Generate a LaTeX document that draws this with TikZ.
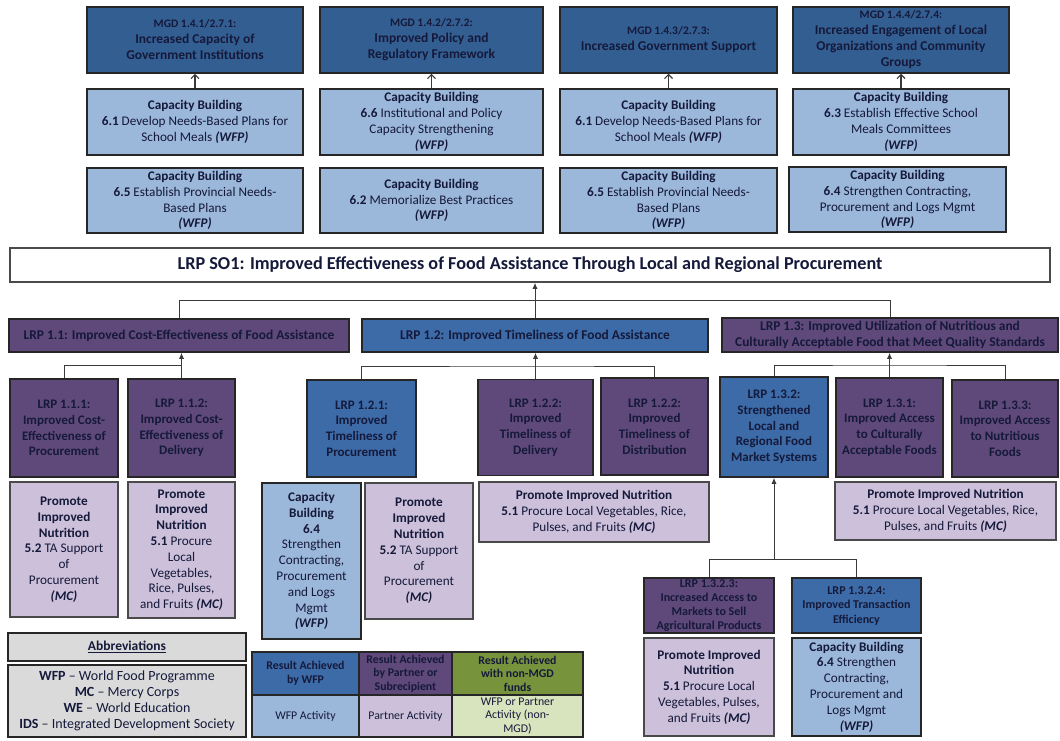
\documentclass[tikz,border=0pt]{standalone}
\usepackage{fontspec}
\setmainfont{Carlito}
\usetikzlibrary{arrows.meta}
\definecolor{mgdblue}{HTML}{335E92}
\definecolor{lrpblue}{HTML}{3C6BA8}
\definecolor{cbblue}{HTML}{9BB7DA}
\definecolor{purp}{HTML}{5F497A}
\definecolor{lpurp}{HTML}{CCC0DA}
\definecolor{grn}{HTML}{77933C}
\definecolor{lgrn}{HTML}{D7E4BD}
\definecolor{abgrey}{HTML}{DADADA}
\definecolor{boxline}{HTML}{262626}
\definecolor{lpline}{HTML}{4A4A4A}
\definecolor{txt}{HTML}{15193A}
\definecolor{conn}{HTML}{3A3A3A}
\newcommand\WFPtag{\textbf{\textit{(WFP)}}}
\newcommand\MCtag{\textbf{\textit{(MC)}}}
\begin{document}
\begin{tikzpicture}[x=1pt,y=-1pt,
  box/.style={draw=boxline, line width=1.5pt, align=center, inner sep=1pt, text=txt,
    font=\fontsize{13.2}{15.8}\selectfont},
  mgd/.style={box, fill=mgdblue, font=\bfseries\fontsize{13.5}{16}\selectfont},
  cbx/.style={box, fill=cbblue},
  pur/.style={box, fill=purp, font=\bfseries\fontsize{13}{15.7}\selectfont},
  blu/.style={box, fill=lrpblue, font=\bfseries\fontsize{13}{15.7}\selectfont},
  lpx/.style={box, fill=lpurp, draw=lpline},
  wh/.style={box, fill=white, draw=lpline, font=\bfseries\fontsize{18.2}{21}\selectfont},
  lg/.style={box, font=\fontsize{11.8}{13.5}\selectfont, line width=1.2pt},
  sz/.style 2 args={minimum width=#1pt, minimum height=#2pt},
  link/.style={draw=conn, line width=0.9pt},
  tarr/.style={link, line width=1.2pt, -{Straight Barb[length=4pt,width=8pt]}},
  arr/.style={link, -{Latex[length=6pt,width=5pt]}}
]
\useasboundingbox (0,0) rectangle (1060,740);

% ---- MGD row
\node[mgd, sz={216}{66}] (m1) at (195,40) {{\fontsize{11.5}{16}\selectfont MGD 1.4.1/2.7.1:}\\Increased Capacity of\\Government Institutions};
\node[mgd, sz={223}{66}] (m2) at (431.5,40) {{\fontsize{11.5}{16}\selectfont MGD 1.4.2/2.7.2:}\\Improved Policy and\\Regulatory Framework};
\node[mgd, sz={217}{66}] (m3) at (668.5,40) {{\fontsize{11.5}{16}\selectfont MGD 1.4.3/2.7.3:}\\Increased Government Support};
\node[mgd, sz={216}{66}] (m4) at (901,40) {{\fontsize{11.5}{16}\selectfont MGD 1.4.4/2.7.4:}\\Increased Engagement of Local\\Organizations and Community\\Groups};

% ---- Capacity building rows
\node[cbx, sz={216}{66}] (c11) at (195,122) {\textbf{Capacity Building}\\\textbf{6.1} Develop Needs-Based Plans for\\School Meals \WFPtag};
\node[cbx, sz={223}{66}] (c12) at (431.5,122) {\textbf{Capacity Building}\\\textbf{6.6} Institutional and Policy\\Capacity Strengthening\\\WFPtag};
\node[cbx, sz={217}{66}] (c13) at (668.5,122) {\textbf{Capacity Building}\\\textbf{6.1} Develop Needs-Based Plans for\\School Meals \WFPtag};
\node[cbx, sz={216}{66}] (c14) at (901,122) {\textbf{Capacity Building}\\\textbf{6.3} Establish Effective School\\Meals Committees\\\WFPtag};

\node[cbx, sz={216}{65}] (c21) at (195,200.5) {\textbf{Capacity Building}\\\textbf{6.5} Establish Provincial Needs-\\Based Plans\\\WFPtag};
\node[cbx, sz={223}{65}] (c22) at (431.5,200.5) {\textbf{Capacity Building}\\\textbf{6.2} Memorialize Best Practices\\\WFPtag};
\node[cbx, sz={217}{65}] (c23) at (668.5,200.5) {\textbf{Capacity Building}\\\textbf{6.5} Establish Provincial Needs-\\Based Plans\\\WFPtag};
\node[cbx, sz={217}{65}] (c24) at (897.5,199.5) {\textbf{Capacity Building}\\\textbf{6.4} Strengthen Contracting,\\Procurement and Logs Mgmt\\\WFPtag};

\draw[tarr] (c11.north) -- (m1.south);
\draw[tarr] (c12.north) -- (m2.south);
\draw[tarr] (c13.north) -- (m3.south);
\draw[tarr] (c14.north) -- (m4.south);

% ---- SO1
\node[wh, sz={1040}{34}] (so1) at (530,265) {LRP SO1: Improved Effectiveness of Food Assistance Through Local and Regional Procurement};

% ---- level 2
\node[pur, sz={340}{33}, font=\bfseries\fontsize{13.4}{16}\selectfont] (l11) at (179,335.5) {LRP 1.1: Improved Cost-Effectiveness of Food Assistance};
\node[blu, sz={346}{33}, font=\bfseries\fontsize{13.4}{16}\selectfont] (l12) at (535,335.5) {LRP 1.2: Improved Timeliness of Food Assistance};
\node[pur, sz={336}{34}, font=\bfseries\fontsize{13.4}{16}\selectfont] (l13) at (890,335) {LRP 1.3: Improved Utilization of Nutritious and\\Culturally Acceptable Food that Meet Quality Standards};

\draw[link] (l11.north) -- ++(0,-18) -| (l13.north);
\draw[arr] (l12.north) -- (l12.north |- so1.south);

% ---- level 3
\node[pur, sz={108}{98}] (a111) at (64,428) {LRP 1.1.1:\\Improved Cost-\\Effectiveness of\\Procurement};
\node[pur, sz={107}{98}] (a112) at (181.5,428) {LRP 1.1.2:\\Improved Cost-\\Effectiveness of\\Delivery};
\node[blu, sz={109}{97}] (a121) at (361.5,428.5) {LRP 1.2.1:\\Improved\\Timeliness of\\Procurement};
\node[pur, sz={115}{96}] (a122) at (535.5,427.5) {LRP 1.2.2:\\Improved\\Timeliness of\\Delivery};
\node[pur, sz={107}{97}] (a122b) at (654.5,426.5) {LRP 1.2.2:\\Improved\\Timeliness of\\Distribution};
\node[blu, sz={108}{100}] (a132) at (774,427) {LRP 1.3.2:\\Strengthened\\Local and\\Regional Food\\Market Systems};
\node[pur, sz={107}{99}] (a131) at (889.5,427.5) {LRP 1.3.1:\\Improved Access\\to Culturally\\Acceptable Foods};
\node[pur, sz={106}{97}] (a133) at (1005,428.5) {LRP 1.3.3:\\Improved Access\\to Nutritious\\Foods};

\coordinate (j11) at (181.5,365);
\coordinate (j12) at (535.5,366);
\coordinate (j13) at (889.5,365);
\draw[link] (a111.north) |- (j11);
\draw[arr] (a112.north) -- (a112.north |- l11.south);
\draw[link] (a121.north) |- (j12) -| (a122b.north);
\draw[arr] (a122.north) -- (a122.north |- l12.south);
\draw[link] (a132.north) |- (j13) -| (a133.north);
\draw[arr] (a131.north) -- (a131.north |- l13.south);

% ---- level 4 activities
\node[lpx, sz={108}{135}] (p1) at (64,549.5) {\textbf{Promote}\\\textbf{Improved}\\\textbf{Nutrition}\\\textbf{5.2} TA Support\\of\\Procurement\\\MCtag};
\node[lpx, sz={107}{136}] (p2) at (181.5,550) {\textbf{Promote}\\\textbf{Improved}\\\textbf{Nutrition}\\\textbf{5.1} Procure\\Local\\Vegetables,\\Rice, Pulses,\\and Fruits \MCtag};
\node[cbx, sz={99}{156}] (cb64) at (311.5,561) {\textbf{Capacity}\\\textbf{Building}\\\textbf{6.4}\\Strengthen\\Contracting,\\Procurement\\and Logs\\Mgmt\\\WFPtag};
\node[lpx, sz={108}{136}] (p3) at (419,551) {\textbf{Promote}\\\textbf{Improved}\\\textbf{Nutrition}\\\textbf{5.2} TA Support\\of\\Procurement\\\MCtag};
\node[lpx, sz={230}{60}] (p4) at (594,512) {\textbf{Promote Improved Nutrition}\\\textbf{5.1} Procure Local Vegetables, Rice,\\Pulses, and Fruits \MCtag};
\node[lpx, sz={221}{58}] (p5) at (945.5,511) {\textbf{Promote Improved Nutrition}\\\textbf{5.1} Procure Local Vegetables, Rice,\\Pulses, and Fruits \MCtag};

% ---- level 5
\node[pur, sz={130}{55}, font=\bfseries\fontsize{12}{14}\selectfont] (a1323) at (709,605.5) {LRP 1.3.2.3:\\Increased Access to\\Markets to Sell\\Agricultural Products};
\node[blu, sz={129}{55}, font=\bfseries\fontsize{12}{14.5}\selectfont] (a1324) at (856.5,605.5) {LRP 1.3.2.4:\\Improved Transaction\\Efficiency};
\node[lpx, sz={130}{98}] (p6) at (709,687) {\textbf{Promote Improved}\\\textbf{Nutrition}\\\textbf{5.1} Procure Local\\Vegetables, Pulses,\\and Fruits \MCtag};
\node[cbx, sz={129}{98}] (cb6) at (856.5,687) {\textbf{Capacity Building}\\\textbf{6.4} Strengthen\\Contracting,\\Procurement and\\Logs Mgmt\\\WFPtag};

\coordinate (j132) at (774,559);
\draw[arr] (j132) -- (a132.south);
\draw[link] (a1323.north) |- (j132) -| (a1324.north);

% ---- abbreviations
\node[box, fill=abgrey, sz={238}{28}, font=\bfseries\fontsize{13.5}{16}\selectfont] (abh) at (127,647) {\underline{Abbreviations}};
\node[box, fill=abgrey, sz={238}{72}, font=\fontsize{14}{16}\selectfont] (abb) at (127,701) {\textbf{WFP} -- World Food Programme\\\textbf{MC} -- Mercy Corps\\\textbf{WE} -- World Education\\\textbf{IDS} -- Integrated Development Society};

% ---- legend
\node[lg, fill=lrpblue, sz={107}{43}, font=\bfseries\fontsize{11.8}{13.5}\selectfont] (g1) at (305.5,673.5) {Result Achieved\\by WFP};
\node[lg, fill=purp, sz={93}{43}, font=\bfseries\fontsize{11.8}{13.5}\selectfont] (g2) at (405.5,673.5) {Result Achieved\\by Partner or\\Subrecipient};
\node[lg, fill=grn, sz={131}{43}, font=\bfseries\fontsize{11.8}{13.5}\selectfont] (g3) at (517.5,673.5) {Result Achieved\\with non-MGD\\funds};
\node[lg, fill=cbblue, sz={107}{42}] (h1) at (305.5,716) {WFP Activity};
\node[lg, fill=lpurp, sz={93}{42}] (h2) at (405.5,716) {Partner Activity};
\node[lg, fill=lgrn, sz={131}{42}] (h3) at (517.5,716) {WFP or Partner\\Activity (non-\\MGD)};
\end{tikzpicture}
\end{document}
